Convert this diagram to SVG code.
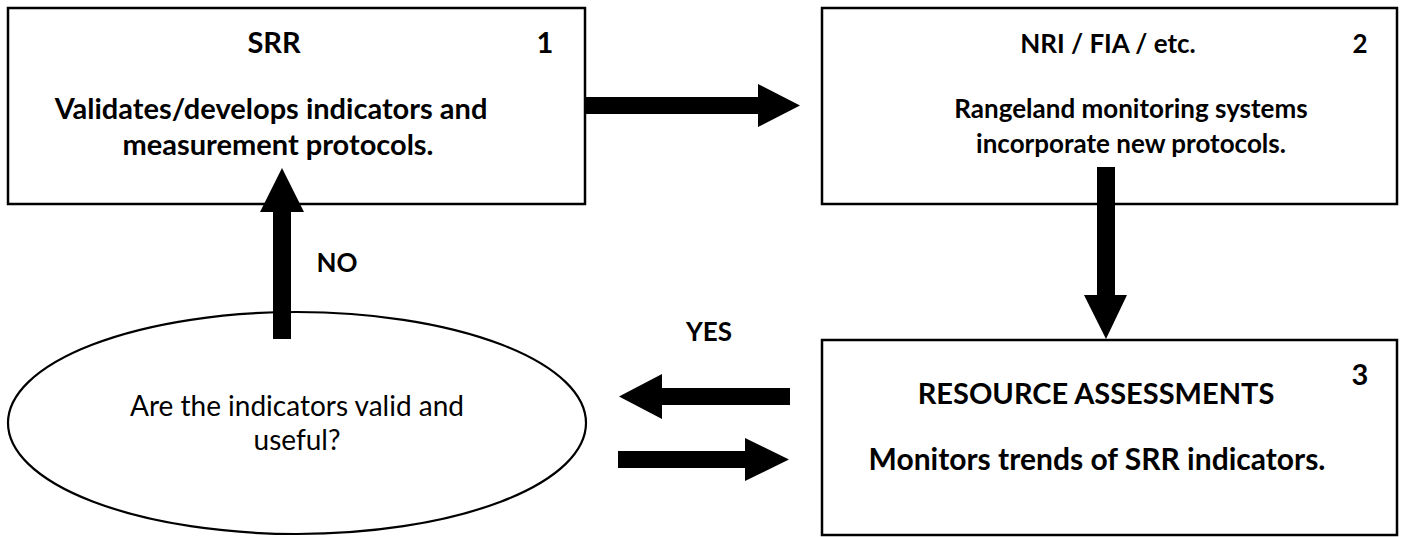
<svg xmlns="http://www.w3.org/2000/svg" width="1404" height="537" viewBox="0 0 1404 537">
<style>
.box{fill:#fff;stroke:#000;stroke-width:2.5}
.ell{fill:#fff;stroke:#000;stroke-width:2.2}
.t{font-family:Lato,"Liberation Sans",sans-serif;font-size:26px;font-weight:bold;fill:#000;text-anchor:middle}
.r{font-family:Lato,"Liberation Sans",sans-serif;font-size:28px;font-weight:normal;fill:#000;text-anchor:middle}
.big{font-size:29px}
.big2{font-size:30px}
.arr{fill:#000;stroke:none}
</style>
<rect width="1404" height="537" fill="#fff"/>
<g id="node1">
<rect class="box" x="8" y="8" width="577" height="196"/>
<text class="t big" x="274" y="53">SRR</text>
<text class="t big" x="545" y="53">1</text>
<text class="t big" x="271" y="119">Validates/develops indicators and</text>
<text class="t big" x="278" y="155">measurement protocols.</text>
</g>
<g id="node2">
<rect class="box" x="822" y="8" width="575" height="196"/>
<text class="t" x="1108" y="53">NRI / FIA / etc.</text>
<text class="t" x="1360" y="53">2</text>
<text class="t" x="1131" y="118">Rangeland monitoring systems</text>
<text class="t" x="1131" y="153">incorporate new protocols.</text>
</g>
<g id="node3">
<rect class="box" x="822" y="340" width="575" height="195"/>
<text class="t big" x="1360" y="385">3</text>
<text class="t big" x="1096" y="404">RESOURCE ASSESSMENTS</text>
<text class="t big2" x="1097" y="470">Monitors trends of SRR indicators.</text>
</g>
<g id="decision">
<ellipse class="ell" cx="297" cy="423" rx="289" ry="111"/>
<text class="r" x="297" y="416">Are the indicators valid and</text>
<text class="r" x="297" y="450">useful?</text>
</g>
<g id="connectors">
<polygon class="arr" points="585,97 758,97 758,84 800,105.5 758,127 758,114 585,114"/>
<polygon class="arr" points="1097,167 1115,167 1115,295 1127,295 1106,339 1084,295 1097,295"/>
<polygon class="arr" points="273,339 273,212 260,212 282,168 304,212 291,212 291,339"/>
<polygon class="arr" points="790,388 662,388 662,374 619,396.5 662,419 662,405 790,405"/>
<polygon class="arr" points="618,451 745,451 745,438 789,459.5 745,481 745,468 618,468"/>
<text class="t" x="337" y="272">NO</text>
<text class="t" x="709" y="341">YES</text>
</g>
</svg>
